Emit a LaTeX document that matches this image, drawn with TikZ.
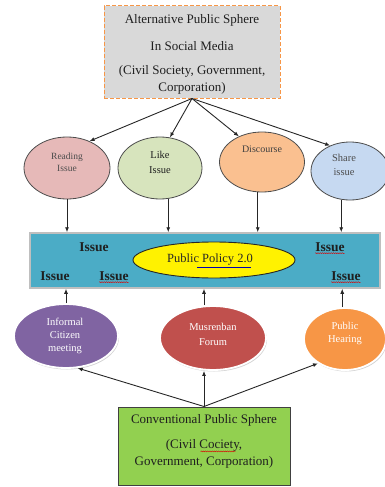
\documentclass[tikz,border=0pt]{standalone}
\usepackage{fontspec}
\setmainfont{Liberation Serif}
\usetikzlibrary{arrows.meta,shapes.geometric,shadows,calc,decorations.pathmorphing}
\definecolor{bandblue}{HTML}{4BACC6}
\definecolor{bandedge}{HTML}{BFBFBF}
\definecolor{readc}{HTML}{E6B9B8}
\definecolor{likec}{HTML}{D7E4BD}
\definecolor{discc}{HTML}{FAC090}
\definecolor{sharec}{HTML}{C6D9F1}
\definecolor{infc}{HTML}{8064A2}
\definecolor{musc}{HTML}{C0504D}
\definecolor{hearc}{HTML}{F79646}
\definecolor{topfill}{HTML}{D9D9D9}
\definecolor{topedge}{HTML}{F79646}
\definecolor{botfill}{HTML}{92D050}
\definecolor{txt}{HTML}{1F1F1F}
\begin{document}
\begin{tikzpicture}[x=1pt,y=-1pt,
  arr/.style={-{Latex[length=5pt,width=4pt]}, line width=0.9pt, draw=black!85},
  topell/.style={ellipse, draw=black!70, line width=0.8pt, inner sep=0pt},
  botell/.style={ellipse, draw=white, line width=1.8pt, inner sep=0pt,
     drop shadow={shadow xshift=1pt, shadow yshift=-1.5pt, opacity=0.35}},
  lbl/.style={align=center, inner sep=0pt, text=txt},
  wlbl/.style={align=center, inner sep=0pt, text=white},
  issue/.style={inner sep=0pt, text=txt, font=\fontsize{13.5}{15}\selectfont\bfseries},
  squig/.style={decorate, decoration={snake, amplitude=0.5pt, segment length=2.2pt}, draw=red!85!black, line width=0.4pt}
]
\useasboundingbox (0,0) rectangle (384,487);

% top box
\node (top) [rectangle, fill=topfill, draw=topedge, line width=1pt,
  dash pattern=on 4pt off 2pt, minimum width=176pt, minimum height=92pt, inner sep=0pt] at (192,52) {};
\node (t1) [lbl, font=\fontsize{13}{15}\selectfont] at (192,20) {Alternative Public Sphere};
\node (t2) [lbl, font=\fontsize{13}{15}\selectfont] at (192,46) {In Social Media};
\node (t3) [lbl, font=\fontsize{13}{17}\selectfont] at (192,80) {(Civil Society, Government,\\Corporation)};

% upper ellipses
\node (read) [topell, fill=readc, minimum width=86pt, minimum height=62pt] at (67,168) {};
\node (like) [topell, fill=likec, minimum width=84pt, minimum height=62pt] at (160,168) {};
\node (disc) [topell, fill=discc, minimum width=85pt, minimum height=60pt] at (262,162) {};
\node (share) [topell, fill=sharec, minimum width=78pt, minimum height=58pt] at (350,171) {};
\node (readl) [lbl, text=black!70, font=\fontsize{9.5}{12.5}\selectfont] at (67,162) {Reading\\Issue};
\node (likel) [lbl, font=\fontsize{10.5}{15}\selectfont] at (160,162) {Like\\Issue};
\node (discl) [lbl, text=black!75, font=\fontsize{10}{12}\selectfont] at (262,149) {Discourse};
\node (sharel) [lbl, text=black!70, font=\fontsize{10.5}{14}\selectfont] at (344,165) {Share\\issue};

\draw[arr] (top.south) -- (read.50);
\draw[arr] (top.south) -- (like.72);
\draw[arr] (top.south) -- (disc.132);
\draw[arr] (top.south) -- (share.128);

% band
\node (band) [rectangle, fill=bandblue, draw=bandedge, line width=1.5pt,
  minimum width=350pt, minimum height=55pt, inner sep=0pt,
  drop shadow={shadow xshift=1pt, shadow yshift=-1pt, opacity=0.25}] at (205,260.5) {};
\node (policy) [ellipse, fill=yellow, draw=black!85, line width=0.9pt, inner sep=0pt,
  minimum width=162pt, minimum height=36pt] at (214,260) {};
\node (policyl) [lbl, text=black!85, font=\fontsize{12.5}{14}\selectfont] at (210,260) {Public Policy  2.0};
\node (iTL) [issue] at (94,247) {Issue};
\node (iTR) [issue] at (330,247) {Issue};
\node (iBL) [issue] at (55,276) {Issue};
\node (iBM) [issue] at (114,276) {Issue};
\node (iBR) [issue] at (346,276) {Issue};
\draw[squig] ([yshift=-1.5pt]iTR.south west) -- ([yshift=-1.5pt]iTR.south east);
\draw[squig] ([yshift=-1.5pt]iBM.south west) -- ([yshift=-1.5pt]iBM.south east);
\draw[squig] ([yshift=-1.5pt]iBR.south west) -- ([yshift=-1.5pt]iBR.south east);
\draw[blue!70!black, line width=0.4pt] ([xshift=-56pt,yshift=-1.5pt]policyl.south east) -- ([xshift=-2pt,yshift=-1.5pt]policyl.south east);

\draw[arr] (read.south) -- (read.south |- band.north);
\draw[arr] (like.-75) -- (like.-75 |- band.north);
\draw[arr] (disc.-98) -- (disc.-98 |- band.north);
\draw[arr] (share.-107) -- (share.-107 |- band.north);

% lower ellipses
\node (inf) [botell, fill=infc, minimum width=104pt, minimum height=64pt] at (66,336) {};
\node (mus) [botell, fill=musc, minimum width=106pt, minimum height=64pt] at (213,338) {};
\node (hear) [botell, fill=hearc, minimum width=82pt, minimum height=62pt] at (345,339) {};
\node (infl) [wlbl, font=\fontsize{10.5}{13}\selectfont] at (65,336) {Informal\\Citizen\\meeting};
\node (musl) [wlbl, font=\fontsize{10.5}{15}\selectfont] at (213,334) {Musrenban\\Forum};
\node (hearl) [wlbl, font=\fontsize{10.5}{13}\selectfont] at (345,333) {Public\\Hearing};

% bottom box
\node (bot) [rectangle, fill=botfill, draw=black!75, line width=1pt,
  minimum width=172pt, minimum height=78pt, inner sep=0pt] at (204,446) {};
\node (b1) [lbl, font=\fontsize{13}{15}\selectfont] at (204,420) {Conventional Public Sphere};
\node (b2) [lbl, font=\fontsize{13}{17}\selectfont] at (204,454) {(Civil Cociety,\\Government, Corporation)};
\draw[squig] ([xshift=66pt,yshift=-12pt]b2.north west) -- ([xshift=101pt,yshift=-12pt]b2.north west);

\draw[arr] (inf.north) -- (inf.north |- band.south);
\draw[arr] (mus.north -| bot.north) -- (band.south -| bot.north);
\draw[arr] (hear.95) -- (hear.95 |- band.south);

\draw[arr] (bot.north) -- (inf.-70);
\draw[arr] (bot.north) -- (bot.north |- mus.south);
\draw[arr] (bot.north) -- (hear.-138);
\end{tikzpicture}
\end{document}
